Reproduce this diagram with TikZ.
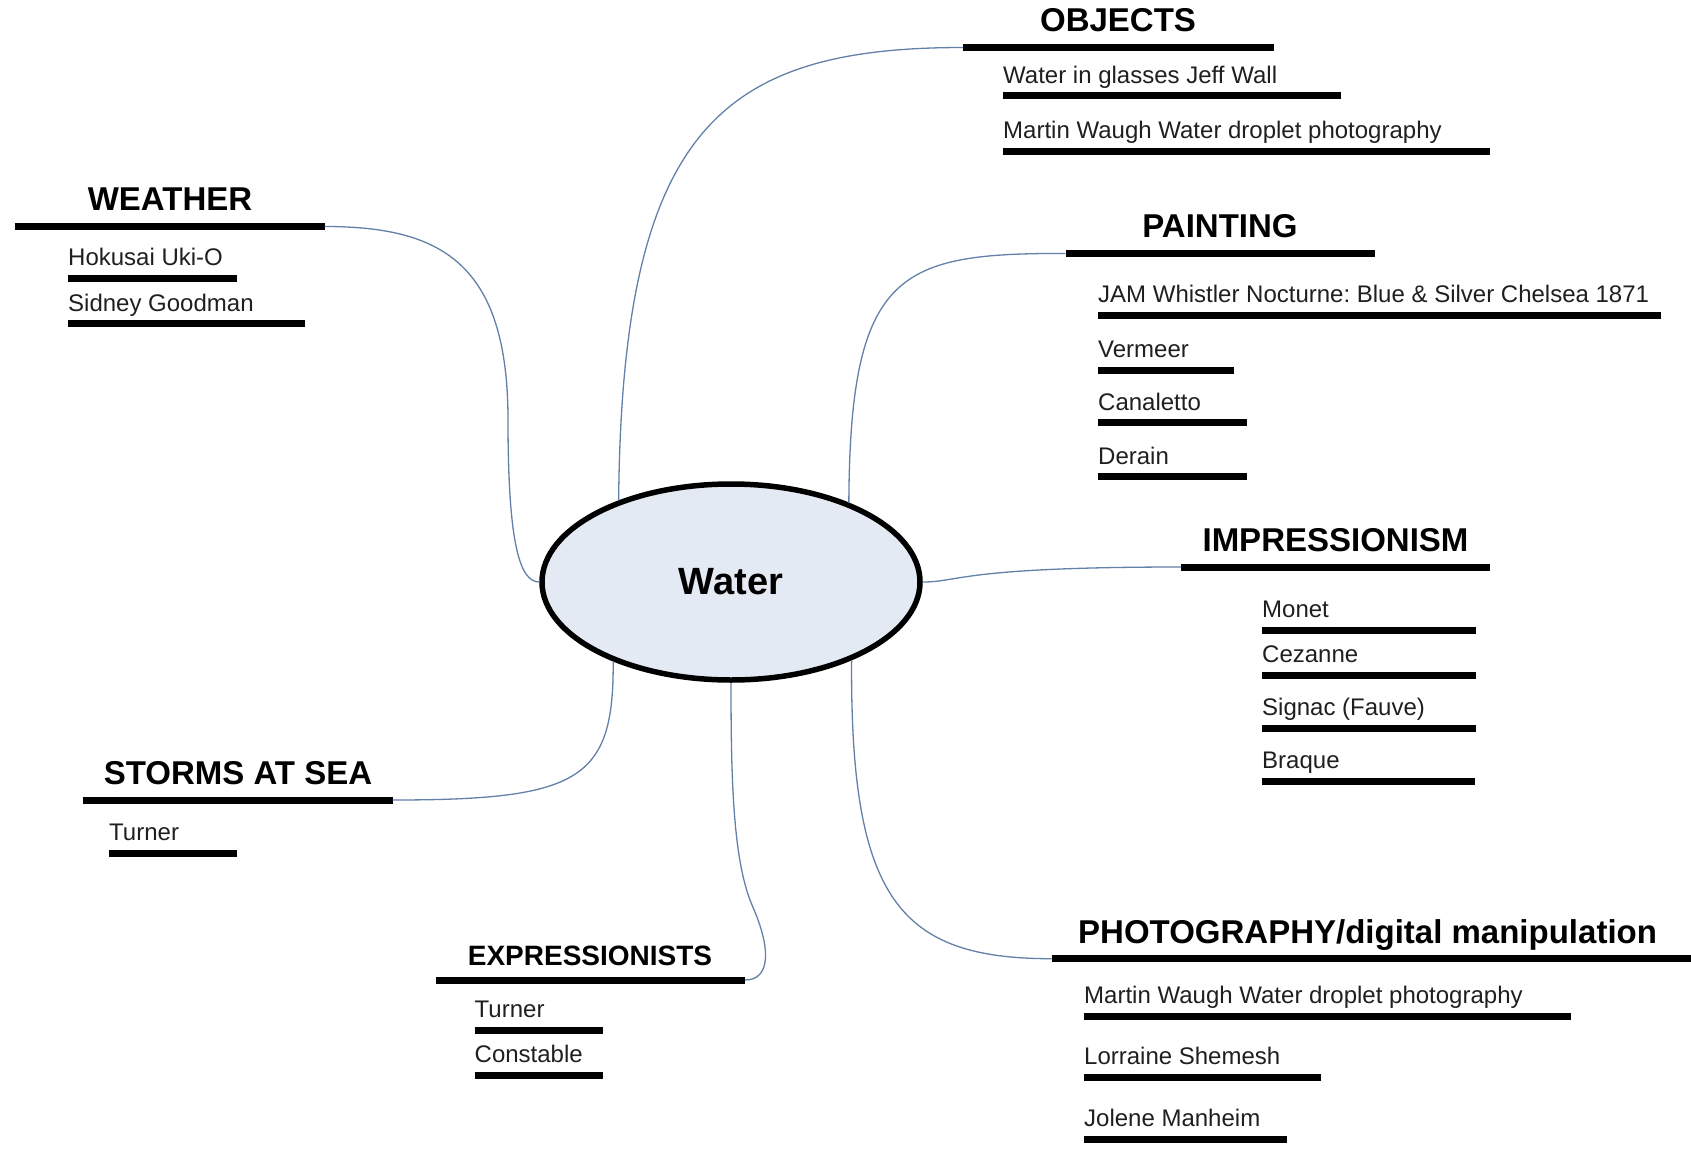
\documentclass[tikz,border=0pt]{standalone}
\usepackage{fontspec}
\setmainfont{Liberation Sans}
\frenchspacing
\usetikzlibrary{shapes.geometric}
\definecolor{linkblue}{RGB}{98,128,168}
\definecolor{waterfill}{RGB}{228,234,244}
\tikzset{
  head/.style={font=\fontsize{33}{38}\selectfont\bfseries, anchor=base, inner sep=0pt},
  entry/.style={font=\fontsize{24}{28}\selectfont, anchor=base west, inner sep=0pt, text=black!88},
  bar/.style={line width=7pt},
  link/.style={draw=linkblue, line width=1.3pt},
}
\begin{document}
\begin{tikzpicture}[x=1pt,y=-1pt]
\useasboundingbox (0,0) rectangle (1691,1153);

% centre
\node[ellipse, draw, line width=5.5pt, fill=waterfill, minimum width=378pt, minimum height=196pt,
      inner sep=0pt, font=\fontsize{38}{44}\selectfont\bfseries] (water) at (731,582) {Water};

% objects
\node[head] (objects) at (1118,31.5) {OBJECTS};
\coordinate (objects-l) at (963,47.5);
\draw[bar] (objects-l) -- (1274,47.5);
\foreach \txt/\y/\xr [count=\i] in {Water in glasses Jeff Wall/96/1341,
    Martin Waugh Water droplet photography/151/1490}{
  \node[entry] (objects-\i) at (1003,\y-12.5) {\txt};
  \draw[bar] (1003,\y) -- (\xr,\y);
}

% weather
\node[head] (weather) at (170,210.5) {WEATHER};
\coordinate (weather-r) at (324.6,226.5);
\draw[bar] (15,226.5) -- (weather-r);
\foreach \txt/\y/\xr [count=\i] in {Hokusai Uki-O/278/237, Sidney Goodman/323.5/305}{
  \node[entry] (weather-\i) at (68,\y-12.5) {\txt};
  \draw[bar] (68,\y) -- (\xr,\y);
}

% painting
\node[head] (painting) at (1220,237.4) {PAINTING};
\coordinate (painting-l) at (1065.5,253.4);
\draw[bar] (painting-l) -- (1375,253.4);
\foreach \txt/\y/\xr [count=\i] in {JAM Whistler Nocturne: Blue \& Silver Chelsea 1871/315/1661,
    Vermeer/370/1234, Canaletto/422.7/1246.6, Derain/476.7/1246.6}{
  \node[entry] (painting-\i) at (1098,\y-12.5) {\txt};
  \draw[bar] (1098,\y) -- (\xr,\y);
}

% impressionism
\node[head] (impressionism) at (1335.5,551) {IMPRESSIONISM};
\coordinate (impressionism-l) at (1181,567);
\draw[bar] (impressionism-l) -- (1490,567);
\foreach \txt/\y/\xr [count=\i] in {Monet/630/1476, Cezanne/675/1476,
    Signac (Fauve)/728/1476, Braque/781/1475}{
  \node[entry] (impressionism-\i) at (1262,\y-12.5) {\txt};
  \draw[bar] (1262,\y) -- (\xr,\y);
}

% storms at sea
\node[head] (storms) at (238,784) {STORMS AT SEA};
\coordinate (storms-r) at (392.5,800);
\draw[bar] (83,800) -- (storms-r);
\node[entry] (storms-1) at (109,853-12.5) {Turner};
\draw[bar] (109,853) -- (237,853);

% expressionists
\node[head, font=\fontsize{28}{32}\selectfont\bfseries] (expressionists) at (590,965) {EXPRESSIONISTS};
\coordinate (expressionists-r) at (745,980);
\draw[bar] (435.7,980) -- (expressionists-r);
\foreach \txt/\y/\xr [count=\i] in {Turner/1030/603, Constable/1075/603}{
  \node[entry] (expressionists-\i) at (474.5,\y-12.5) {\txt};
  \draw[bar] (474.5,\y) -- (\xr,\y);
}

% photography
\node[head, anchor=base west] (photography) at (1078,943) {PHOTOGRAPHY/digital manipulation};
\coordinate (photography-l) at (1051.5,958.7);
\draw[bar] (photography-l) -- (1691,958.7);
\foreach \txt/\y/\xr [count=\i] in {Martin Waugh Water droplet photography/1016/1571,
    Lorraine Shemesh/1077/1321, Jolene Manheim/1139/1286.5}{
  \node[entry] (photography-\i) at (1084,\y-12.5) {\txt};
  \draw[bar] (1084,\y) -- (\xr,\y);
}

% links to the centre
\draw[link] (water.144) .. controls (622,130) and (720,47.5) .. (objects-l);
\draw[link] (weather-r) .. controls (440,226.5) and (508,262) .. (508,420)
  .. controls (508,545) and (520,582) .. (water.180);
\draw[link] (water.34) .. controls (850,270) and (900,253.4) .. (painting-l);
\draw[link] (water.0) .. controls (960,582) and (960,567) .. (impressionism-l);
\draw[link] (water.214) .. controls (614,780) and (580,800) .. (storms-r);
\draw[link] (water.270) .. controls (731,780) and (733,860) .. (752,905)
  .. controls (772,950) and (770,980) .. (expressionists-r);
\draw[link] (water.327) .. controls (850,900) and (900,958.7) .. (photography-l);

\end{tikzpicture}
\end{document}
